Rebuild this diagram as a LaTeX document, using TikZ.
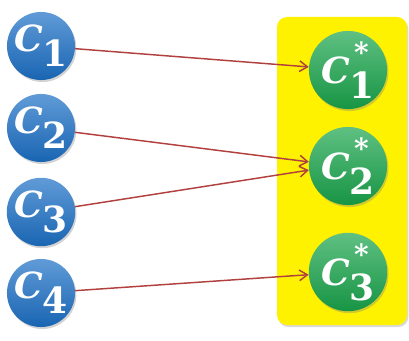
\documentclass[tikz,border=0pt]{standalone}
\usepackage{fontspec}
\newfontfamily\ballfont{DejaVu Serif}
\usetikzlibrary{shadows,arrows.meta}
\definecolor{ballblue}{RGB}{28,112,198}
\definecolor{ballgreen}{RGB}{26,165,76}
\definecolor{linkred}{RGB}{176,65,62}
\newcommand*\cname[1]{\textit{C}\raisebox{-0.42em}{#1}}
\newcommand*\cstar[1]{\textit{C}\makebox[0pt][l]{\hspace{0.12em}\raisebox{0.58em}{\fontsize{21}{21}\selectfont *}}\raisebox{-0.42em}{#1}}

\begin{document}
\begin{tikzpicture}[x=0.75pt,y=0.75pt,
  ball/.style={circle,inner sep=0pt,text=white,
    font=\ballfont\bfseries\fontsize{27}{29}\selectfont,
    drop shadow={opacity=0.35,shadow xshift=1pt,shadow yshift=-1.5pt}},
  bluenode/.style={ball,minimum size=48pt,
    top color=ballblue!70!white,bottom color=ballblue!90!black},
  greennode/.style={ball,minimum size=57pt,
    top color=ballgreen!70!white,bottom color=ballgreen!90!black},
  link/.style={draw=linkred,line width=1.1pt,
    -{Straight Barb[length=6pt,width=8pt]}}]
\useasboundingbox (0,0) rectangle (409,340);

\fill[yellow,rounded corners=7.5pt,
  drop shadow={opacity=0.3,shadow xshift=1pt,shadow yshift=-1.5pt}]
  (277,15) rectangle (407,323);

\node[bluenode] (c1) at (41,294) {\cname{1}};
\node[bluenode] (c2) at (41,212) {\cname{2}};
\node[bluenode] (c3) at (41,128) {\cname{3}};
\node[bluenode] (c4) at (41,47) {\cname{4}};

\node[greennode] (s1) at (348,270) {\cstar{1}};
\node[greennode] (s2) at (348,174) {\cstar{2}};
\node[greennode] (s3) at (348,68) {\cstar{3}};

\draw[link] (c1) -- (s1);
\draw[link] (c2) -- (s2.174);
\draw[link] (c3) -- (s2.186);
\draw[link] (c4) -- (s3);
\end{tikzpicture}
\end{document}
